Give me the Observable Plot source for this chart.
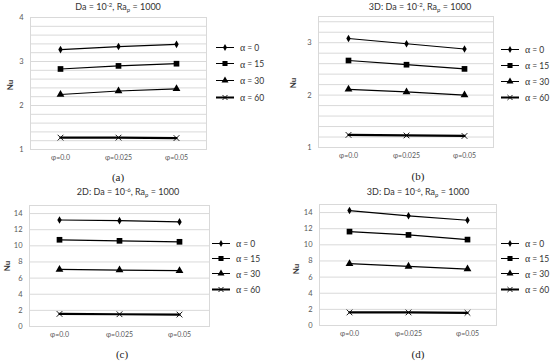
<!DOCTYPE html>
<html>
<head>
<meta charset="utf-8">
<script src="https://cdn.jsdelivr.net/npm/d3@7"></script>
<script src="https://cdn.jsdelivr.net/npm/@observablehq/plot@0.6"></script>
<style>
  html, body { margin: 0; padding: 0; background: #fff; }
  #root { position: relative; width: 550px; height: 362px; overflow: hidden; font-family: Lato, "Open Sans", sans-serif; }
  .panel { position: absolute; }
  .title { position: absolute; transform: translate(-50%, -50%); white-space: nowrap; font-size: 9px; color: #333; }
  .title sup, .title sub { font-size: 6px; }
  .title sup { vertical-align: 3px; }
  .title sub { vertical-align: -2px; }
  .cap { position: absolute; transform: translate(-50%, -50%); font-family: "Liberation Serif", serif; font-size: 11px; color: #222; }
  .nu { position: absolute; transform: translate(-50%, -50%) rotate(-90deg); font-size: 8px; font-weight: bold; color: #333; }
  .leg { position: absolute; display: flex; align-items: center; font-size: 8.5px; color: #333; white-space: nowrap; transform: translateY(-50%); }
  .leg svg { display: block; margin-right: 6px; }
  .leg .al { font-family: "Liberation Serif", serif; font-size: 10px; margin-right: 2px; }
</style>
</head>
<body>
<div id="root"></div>
<script>
// ---- data ----
const phiLabels = ["φ=0.0", "φ=0.025", "φ=0.05"];
const alphaLabels = ["0", "15", "30", "60"];
// Nu values per alpha (rows) and phi (columns)
const nuA = [[3.27, 3.34, 3.39], [2.83, 2.90, 2.95], [2.25, 2.33, 2.38], [1.27, 1.27, 1.26]];
const nuB = [[3.08, 2.98, 2.88], [2.66, 2.58, 2.50], [2.11, 2.06, 2.00], [1.24, 1.23, 1.22]];
const nuC = [[13.2, 13.12, 12.97], [10.75, 10.62, 10.5], [7.08, 7.0, 6.92], [1.56, 1.52, 1.48]];
const nuD = [[14.25, 13.6, 13.05], [11.64, 11.23, 10.65], [7.66, 7.33, 7.0], [1.62, 1.62, 1.57]];
const titles = [
  "Da = 10<sup>-2</sup>, Ra<sub>p</sub> = 1000",
  "3D: Da = 10<sup>-2</sup>, Ra<sub>p</sub> = 1000",
  "2D: Da = 10<sup>-6</sup>, Ra<sub>p</sub> = 1000",
  "3D: Da = 10<sup>-6</sup>, Ra<sub>p</sub> = 1000"
];
const captions = ["(a)", "(b)", "(c)", "(d)"];
const yTicksAB = [1, 2, 3, 4];
const yTicksCD = [0, 2, 4, 6, 8, 10, 12, 14];

const symbols = ["diamond", "square", "triangle", "times"];
const symR = [2.3, 3.2, 2.9, 2.7];

const panels = [
  {data: nuA, left: 0, top: 0, yDomain: [1, 4], ticks: yTicksAB, grid: d3.range(5, 21).map(i => i / 5),
   m: [17, 69, 32, 30], title: [118, 7], cap: [118, 177], nu: [10, 85], leg: [216, 47, 16.7]},
  {data: nuB, left: 275, top: 0, yDomain: [1, 3.5], ticks: [1, 2, 3], grid: d3.range(5, 18).map(i => i / 5),
   m: [16, 57, 34, 43], title: [420, 7], cap: [418, 176], nu: [293, 83], leg: [501, 49, 16]},
  {data: nuC, left: 0, top: 181, yDomain: [0, 15], ticks: yTicksCD, grid: yTicksCD,
   m: [24, 66, 36, 29], title: [128, 192], cap: [122, 354], nu: [7, 266], leg: [212, 243, 15.4]},
  {data: nuD, left: 275, top: 181, yDomain: [0, 15], ticks: yTicksCD, grid: yTicksCD,
   m: [23, 54, 37, 44], title: [418, 192], cap: [418, 354], nu: [296, 269], leg: [501, 243, 15.4]}
];

const root = document.getElementById("root");

function legendIcon(k) {
  const w = 18, h = 10, cx = 9, cy = 5;
  const sw = k === 3 ? 2.2 : 1.2;
  const sym = d3.symbol().type(
    k === 0 ? d3.symbolDiamond : k === 1 ? d3.symbolSquare : k === 2 ? d3.symbolTriangle : d3.symbolTimes
  ).size(Math.PI * symR[k] * symR[k] * 0.8);
  const isTimes = k === 3;
  return `<svg width="${w}" height="${h}"><line x1="0" x2="${w}" y1="${cy}" y2="${cy}" stroke="#000" stroke-width="${sw}"/>` +
    `<path transform="translate(${cx},${cy})" d="${sym()}" fill="${isTimes ? "none" : "#000"}" stroke="#000" stroke-width="${isTimes ? 0.9 : 0}"/></svg>`;
}

panels.forEach((p, pi) => {
  const rows = [];
  p.data.forEach((vals, k) => vals.forEach((v, j) => rows.push({alpha: alphaLabels[k], k, phi: phiLabels[j], nu: v})));
  const marks = [
    Plot.ruleY(p.grid, {stroke: "#d9d9d9"}),
    Plot.frame({stroke: "#d9d9d9"}),
    Plot.axisX({tickSize: 0, tickPadding: 6, fontSize: 7, label: null}),
    Plot.axisY(p.ticks, {tickSize: 0, tickPadding: 7, fontSize: 7.5, label: null, tickFormat: d3.format("d")})
  ];
  alphaLabels.forEach((a, k) => {
    const sub = rows.filter(d => d.k === k);
    marks.push(Plot.line(sub, {x: "phi", y: "nu", stroke: "#000", strokeWidth: k === 3 ? 2.2 : 1.2}));
    marks.push(Plot.dot(sub, {x: "phi", y: "nu", symbol: symbols[k], r: symR[k],
      fill: k === 3 ? "none" : "#000", stroke: k === 3 ? "#000" : "none", strokeWidth: 0.9}));
  });
  const chart = Plot.plot({
    width: 275, height: 181,
    marginTop: p.m[0], marginRight: p.m[1], marginBottom: p.m[2], marginLeft: p.m[3],
    style: {fontFamily: "Lato, 'Open Sans', sans-serif", color: "#595959", background: "transparent", overflow: "visible"},
    x: {type: "point", domain: phiLabels, padding: 0.5, axis: null},
    y: {domain: p.yDomain, axis: null},
    marks
  });
  const wrap = document.createElement("div");
  wrap.className = "panel";
  wrap.style.left = p.left + "px";
  wrap.style.top = p.top + "px";
  wrap.appendChild(chart);
  root.appendChild(wrap);

  const t = document.createElement("div");
  t.className = "title"; t.innerHTML = titles[pi];
  t.style.left = p.title[0] + "px"; t.style.top = p.title[1] + "px";
  root.appendChild(t);

  const c = document.createElement("div");
  c.className = "cap"; c.textContent = captions[pi];
  c.style.left = p.cap[0] + "px"; c.style.top = p.cap[1] + "px";
  root.appendChild(c);

  const n = document.createElement("div");
  n.className = "nu"; n.textContent = "Nu";
  n.style.left = p.nu[0] + "px"; n.style.top = p.nu[1] + "px";
  root.appendChild(n);

  alphaLabels.forEach((a, k) => {
    const l = document.createElement("div");
    l.className = "leg";
    l.style.left = p.leg[0] + "px";
    l.style.top = (p.leg[1] + k * p.leg[2]) + "px";
    l.innerHTML = legendIcon(k) + `<span class="al">α</span><span>= ${a}</span>`;
    root.appendChild(l);
  });
});
</script>
</body>
</html>
